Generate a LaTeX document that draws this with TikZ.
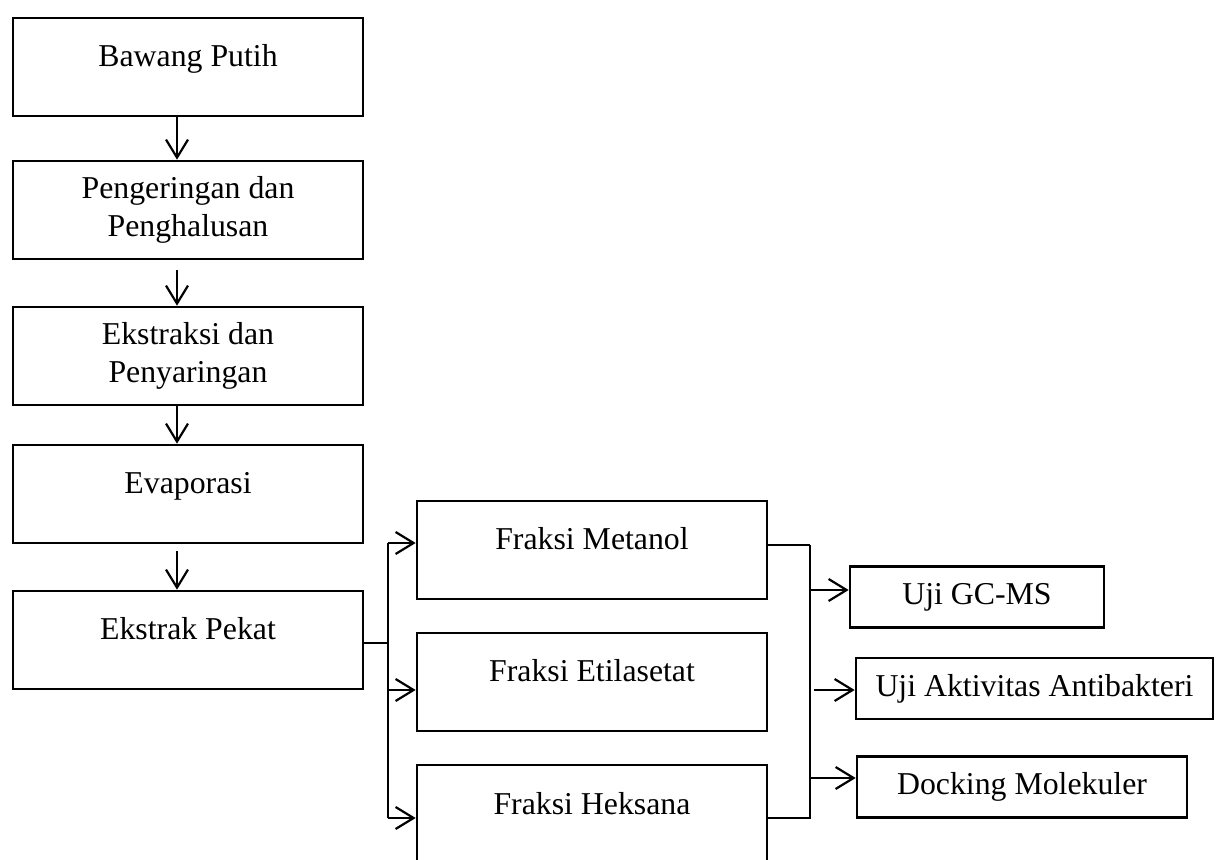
\documentclass[tikz,border=0pt]{standalone}
\usepackage{fontspec}
\setmainfont{Liberation Serif}
\usetikzlibrary{arrows.meta}

\tikzset{
  boite/.style={draw, line width=1.3pt, minimum width=175pt, minimum height=49pt, inner sep=2pt, align=center, font=\fontsize{15.9}{19}\selectfont},
  haut/.style={text height=11pt, text depth=11pt},
  petite/.style={draw, line width=1.3pt, minimum height=30.5pt, inner sep=2pt, font=\fontsize{15.9}{19}\selectfont},
  fleche/.style={line width=1.1pt, -{Straight Barb[length=9pt,width=11pt]}},
  lien/.style={line width=0.7pt}
}

\begin{document}
\begin{tikzpicture}[x=0.5pt, y=-0.5pt]

 \useasboundingbox (0,0) rectangle (1216,860);

  %%%%%%%%%% Points pour travailler %%%%%%%%%%
 \coordinate (kiri1) at (388,543);
 \coordinate (kiri2) at (388,690);
 \coordinate (kiri3) at (388,818);
 \coordinate (kanan1) at (810,545);
 \coordinate (kanan3) at (810,818);
 \coordinate (panah1) at (810,590);
 \coordinate (panah2) at (814,690);
 \coordinate (panah3) at (810,778);

 %%%%%%%%%% Colonne de gauche %%%%%%%%%%
 \node [boite, haut] (b1) at (188,67) {Bawang Putih};
 \node [boite] (b2) at (188,210) {Pengeringan dan\\Penghalusan};
 \node [boite] (b3) at (188,356) {Ekstraksi dan\\Penyaringan};
 \node [boite, haut] (b4) at (188,494) {Evaporasi};
 \node [boite, haut] (b5) at (188,640) {Ekstrak Pekat};

 %%%%%%%%%% Fraksi %%%%%%%%%%
 \node [boite, haut] (m1) at (592,550) {Fraksi Metanol};
 \node [boite, haut] (m2) at (592,682) {Fraksi Etilasetat};
 \node [boite, haut] (m3) at (592,814) {Fraksi Heksana};

 %%%%%%%%%% Uji %%%%%%%%%%
 \node [petite, minimum width=127pt] (r1) at (977,597) {Uji GC-MS};
 \node [petite, minimum width=178.5pt] (r2) at (1034.5,688.5) {Uji Aktivitas Antibakteri};
 \node [petite, minimum width=165pt] (r3) at (1022,787) {Docking Molekuler};

 %%%%%%%%%%%%%%%% Fleches verticales %%%%%%%%%%%%%%%%
 \draw [fleche] ([xshift=-5.5pt]b1.south) -- ([xshift=-5.5pt]b2.north) ;
 \draw [fleche, shorten <=5pt] ([xshift=-5.5pt]b2.south) -- ([xshift=-5.5pt]b3.north) ;
 \draw [fleche] ([xshift=-5.5pt]b3.south) -- ([xshift=-5.5pt]b4.north) ;
 \draw [fleche, shorten <=3.5pt] ([xshift=-5.5pt]b4.south) -- ([xshift=-5.5pt]b5.north) ;

 %%%%%%%%%%% Branches %%%%%%%%%%%
 \draw [lien] ([yshift=-1.5pt]b5.east) -- ([yshift=-1.5pt]b5.east -| kiri1) ;
 \draw [lien] (kiri1) -- (kiri3) ;
 \draw [fleche] (kiri1) -- (kiri1 -| m1.west) ;
 \draw [fleche] (kiri2) -- (kiri2 -| m2.west) ;
 \draw [fleche] (kiri3) -- (kiri3 -| m3.west) ;

 \draw [lien] (kanan1 -| m1.east) -- (kanan1) ;
 \draw [lien] (kanan3 -| m3.east) -- (kanan3) -- (kanan1) ;
 \draw [fleche] (panah1) -- (panah1 -| r1.west) ;
 \draw [fleche] (panah2) -- (panah2 -| r2.west) ;
 \draw [fleche] (panah3) -- (panah3 -| r3.west) ;

\end{tikzpicture}
\end{document}
